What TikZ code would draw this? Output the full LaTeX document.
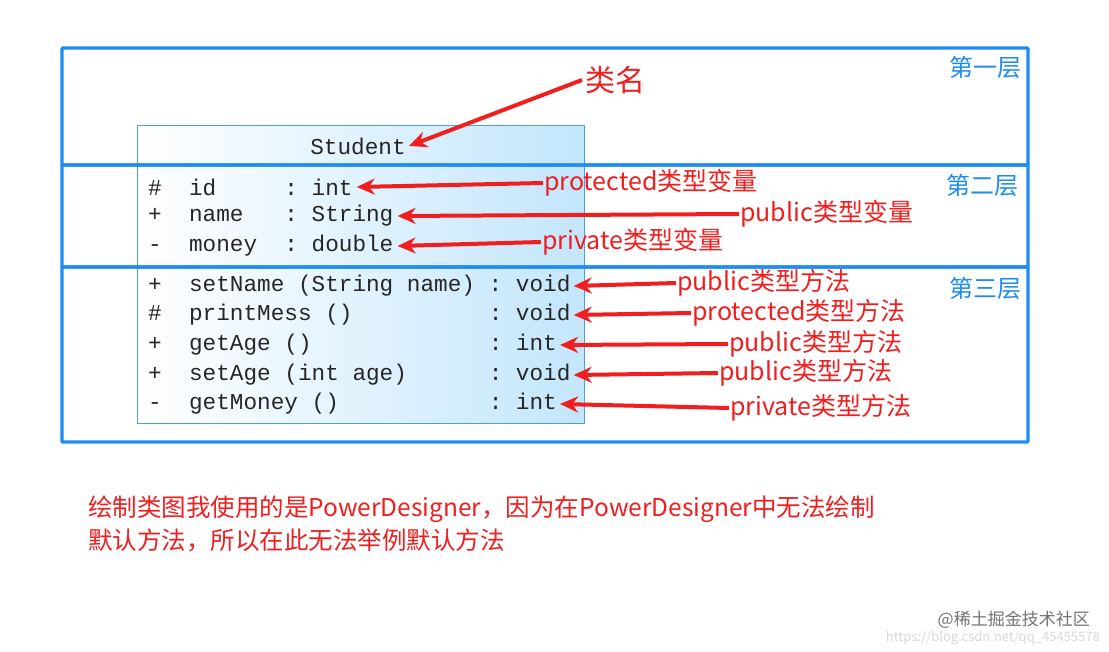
\documentclass[tikz,border=0pt]{standalone}
\usepackage{fontspec}
\setmainfont{Noto Sans CJK SC}
\setmonofont{Liberation Mono}
\usetikzlibrary{arrows.meta}
\definecolor{lay}{RGB}{30,140,240}
\definecolor{rd}{RGB}{240,30,30}
\definecolor{cb}{RGB}{70,160,230}
\definecolor{sky}{RGB}{195,230,252}
\begin{document}
\begin{tikzpicture}[x=1pt,y=-1pt,
  layer/.style={draw=lay,line width=3.2pt,rounded corners=1pt},
  code/.style={anchor=west,font=\ttfamily\fontsize{22.7}{22.7}\selectfont,inner sep=0pt,text=black!85},
  lbl/.style={anchor=west,font=\fontsize{25}{25}\selectfont,text=rd,inner sep=1pt},
  lyr/.style={font=\fontsize{24}{24}\selectfont,text=lay,inner sep=0pt},
  arr/.style={draw=rd,line width=4pt,-{Stealth[length=18pt,width=16pt]}}]
\useasboundingbox[fill=white] (0,0) rectangle (1109,652);
\shade[left color=white,right color=sky] (137,126) rectangle (584,423);
\draw[cb,line width=1pt] (137,126) rectangle (584,423);
\draw[layer] (62,48) rectangle (1028,165);
\draw[layer] (62,165) rectangle (1028,267);
\draw[layer] (62,267) rectangle (1028,442);
\node[lyr] (l1) at (985,67) {第一层};
\node[lyr] (l2) at (982,185) {第二层};
\node[lyr] (l3) at (985,288) {第三层};
\node[code,anchor=center] (cn) at (358,146) {Student};
\node[code] (a1) at (148,187) {\#\ \ id\ \ \ \ \ :\ int};
\node[code] (a2) at (148,216) {+\ \ name\ \ \ :\ String};
\node[code] (a3) at (148,246) {-\ \ money\ \ :\ double};
\node[code] (m1) at (148,286) {+\ \ setName (String name)\ :\ void};
\node[code] (m2) at (148,315) {\#\ \ printMess ()\ \ \ \ \ \ \ \ \ \ :\ void};
\node[code] (m3) at (148,345) {+\ \ getAge ()\ \ \ \ \ \ \ \ \ \ \ \ \ :\ int};
\node[code] (m4) at (148,375) {+\ \ setAge (int age)\ \ \ \ \ \ :\ void};
\node[code] (m5) at (148,404) {-\ \ getMoney ()\ \ \ \ \ \ \ \ \ \ \ :\ int};
\node[anchor=west,font=\fontsize{30}{30}\selectfont,text=rd] (cls) at (582,80) {类名};
\node[lbl] (t1) at (543,183) {protected类型变量};
\node[lbl] (t2) at (739,214) {public类型变量};
\node[lbl] (t3) at (541,242) {private类型变量};
\node[lbl] (t4) at (676,283) {public类型方法};
\node[lbl] (t5) at (691,313) {protected类型方法};
\node[lbl] (t6) at (728,344) {public类型方法};
\node[lbl] (t7) at (718,373) {public类型方法};
\node[lbl] (t8) at (729,408) {private类型方法};
\draw[arr] (cls.west) -- ([xshift=3pt]cn.east);
\draw[arr] (t1.west) -- ([xshift=4pt]a1.east);
\draw[arr] (t2.west) -- ([xshift=4pt]a2.east);
\draw[arr] (t3.west) -- ([xshift=4pt]a3.east);
\draw[arr] (t4.west) -- ([xshift=3pt]m1.east);
\draw[arr] (t5.west) -- ([xshift=3pt]m2.east);
\draw[arr] (t6.west) -- ([xshift=3pt]m3.east);
\draw[arr] (t7.west) -- ([xshift=3pt]m4.east);
\draw[arr] (t8.west) -- ([xshift=3pt]m5.east);
\node[anchor=north west,align=left,font=\fontsize{24.5}{33}\selectfont,text=rd,inner sep=0pt] (note) at (88,496)
  {绘制类图我使用的是PowerDesigner，因为在PowerDesigner中无法绘制\\默认方法，所以在此无法举例默认方法};
\node[anchor=east,font=\fontsize{17}{17}\selectfont,text=black!55,inner sep=0pt] (wm1) at (1090,620) {@稀土掘金技术社区};
\node[anchor=east,font=\fontsize{13}{13}\selectfont,text=black!15,inner sep=0pt] (wm2) at (1100,638) {https://blog.csdn.net/qq\_45455578};
\end{tikzpicture}
\end{document}
